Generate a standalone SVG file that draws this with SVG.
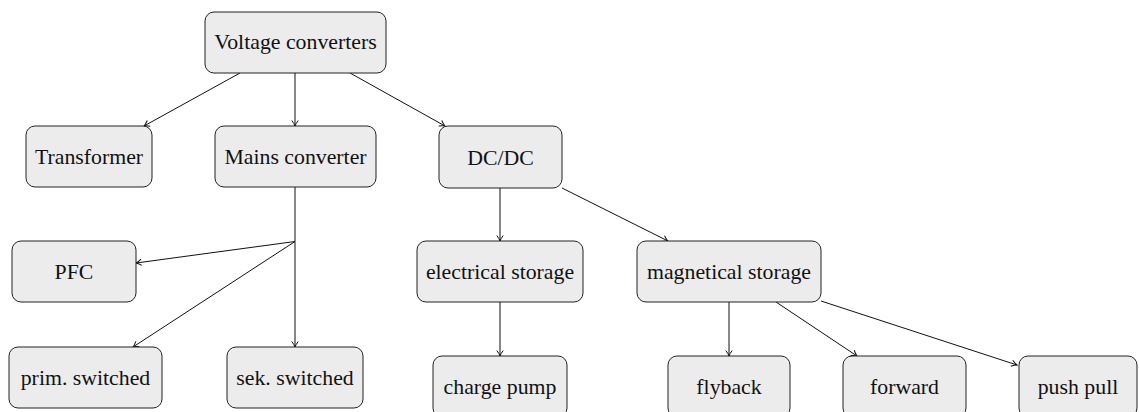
<svg xmlns="http://www.w3.org/2000/svg" width="1139" height="412" viewBox="0 0 1139 412">
<style>
.n rect{fill:#ececec;stroke:#222;stroke-width:1}
.n text{font-family:'Liberation Serif','DejaVu Serif',serif;font-size:21.8px;fill:#111;text-anchor:middle}
.c path{fill:none;stroke:#111;stroke-width:1}
</style>
<defs>
<marker id="ah" markerUnits="userSpaceOnUse" markerWidth="12" markerHeight="12" viewBox="-8 -6 10 12" refX="0" refY="0" orient="auto">
<path d="M-5.5,-3.2 Q-2,-0.6 0,0 Q-2,0.6 -5.5,3.2" fill="none" stroke="#111" stroke-width="1"/>
</marker>
</defs>
<rect width="1139" height="412" fill="#fff"/>
<g id="connectors" class="c">
<path d="M240,73 L144,126" marker-end="url(#ah)"/>
<path d="M295,73 L295,126" marker-end="url(#ah)"/>
<path d="M350,73 L445,126" marker-end="url(#ah)"/>
<path d="M295,187 L295,241.5"/>
<path d="M295,241.5 L136,263" marker-end="url(#ah)"/>
<path d="M295,241.5 L133,347" marker-end="url(#ah)"/>
<path d="M295,241.5 L295,347" marker-end="url(#ah)"/>
<path d="M500,188 L500,241" marker-end="url(#ah)"/>
<path d="M562,188 L668,241" marker-end="url(#ah)"/>
<path d="M500,302 L500,356" marker-end="url(#ah)"/>
<path d="M729,302 L729,356" marker-end="url(#ah)"/>
<path d="M776,302 L857,356" marker-end="url(#ah)"/>
<path d="M821,301 L1017,365" marker-end="url(#ah)"/>
</g>
<g id="voltage-converters" class="n"><rect x="205" y="12" width="181" height="61" rx="9"/><text x="295.5" y="48.5">Voltage converters</text></g>
<g id="transformer" class="n"><rect x="26" y="126" width="126" height="61" rx="9"/><text x="89" y="164">Transformer</text></g>
<g id="mains-converter" class="n"><rect x="215" y="126" width="161" height="61" rx="9"/><text x="295.5" y="164">Mains converter</text></g>
<g id="dcdc" class="n"><rect x="439" y="126" width="123" height="62" rx="9"/><text x="500.5" y="164.5">DC/DC</text></g>
<g id="pfc" class="n"><rect x="12" y="241" width="124" height="61" rx="9"/><text x="74" y="279">PFC</text></g>
<g id="prim-switched" class="n"><rect x="9" y="347" width="153" height="61" rx="9"/><text x="85.5" y="385">prim. switched</text></g>
<g id="sek-switched" class="n"><rect x="227" y="347" width="136" height="61" rx="9"/><text x="295" y="385">sek. switched</text></g>
<g id="electrical-storage" class="n"><rect x="417" y="241" width="166" height="61" rx="9"/><text x="500" y="279">electrical storage</text></g>
<g id="magnetical-storage" class="n"><rect x="637" y="241" width="184" height="61" rx="9"/><text x="729" y="279">magnetical storage</text></g>
<g id="charge-pump" class="n"><rect x="433" y="356" width="134" height="61" rx="9"/><text x="500" y="394">charge pump</text></g>
<g id="flyback" class="n"><rect x="668" y="356" width="122" height="61" rx="9"/><text x="729" y="394">flyback</text></g>
<g id="forward" class="n"><rect x="843" y="356" width="123" height="61" rx="9"/><text x="904.5" y="394">forward</text></g>
<g id="push-pull" class="n"><rect x="1019" y="356" width="118" height="61" rx="9"/><text x="1078" y="394">push pull</text></g>
</svg>
